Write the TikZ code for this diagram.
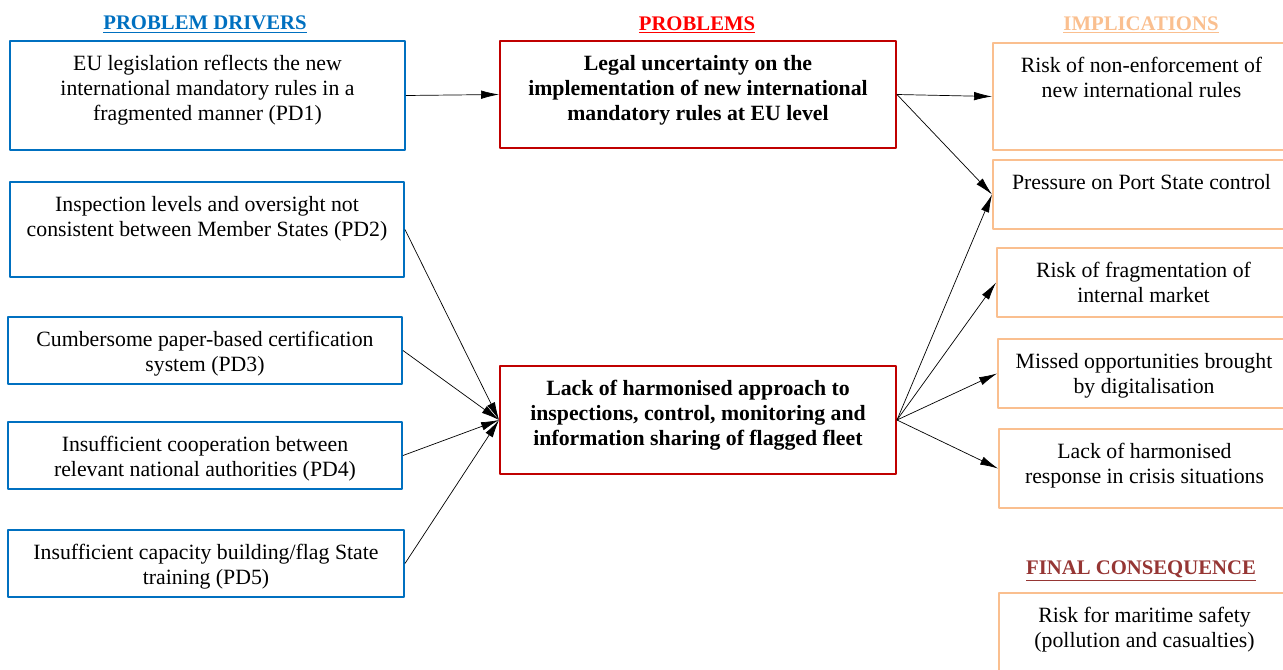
\documentclass[tikz,border=0pt]{standalone}
\usepackage{fontspec}
\setmainfont{Liberation Serif}
\usetikzlibrary{fit,arrows.meta}
\definecolor{drvblue}{RGB}{0,112,192}
\definecolor{prbred}{RGB}{192,0,0}
\definecolor{hdred}{RGB}{255,0,0}
\definecolor{impor}{RGB}{250,191,143}
\definecolor{fcred}{RGB}{150,54,52}
\tikzset{
	frame/.style={draw=#1, line width=1.1pt, inner sep=0pt},
	boxtext/.style={anchor=north, inner sep=0pt, align=center, font=\fontsize{12.4}{14.2}\selectfont},
	head/.style={inner sep=0pt, text=#1, font=\fontsize{11.8}{14}\selectfont\bfseries},
}
\begin{document}
\begin{tikzpicture}[x=0.02cm, y=-0.02cm, line join=round, >={Latex[length=0.36cm, width=0.17cm]}]
		\useasboundingbox (0,0) rectangle (1283,669);
		\clip (0,0) rectangle (1283,669);
		% headings
		\node[head=drvblue] (hpd) at (205,25) {\underline{PROBLEM DRIVERS}};
		\node[head=hdred] (hpb) at (697,25) {\underline{PROBLEMS}};
		\node[head=impor] (him) at (1141,25) {\underline{IMPLICATIONS}};
		\node[head=fcred] (hfc) at (1141,571) {\underline{FINAL CONSEQUENCE}};
		% problem drivers
		\node[frame=drvblue, fit={(10,41) (405,150)}] (pd1) {};
		\node[frame=drvblue, fit={(10,182) (404,277)}] (pd2) {};
		\node[frame=drvblue, fit={(8,317) (402,384)}] (pd3) {};
		\node[frame=drvblue, fit={(8,422) (402,489)}] (pd4) {};
		\node[frame=drvblue, fit={(8,530) (404,597)}] (pd5) {};
		% problems
		\node[frame=prbred, fit={(500,41) (896,148)}] (pb1) {};
		\node[frame=prbred, fit={(500,366) (896,474)}] (pb2) {};
		% implications
		\node[frame=impor, fit={(993,43) (1290,150)}] (im1) {};
		\node[frame=impor, fit={(993,160) (1290,229)}] (im2) {};
		\node[frame=impor, fit={(997,248) (1290,317)}] (im3) {};
		\node[frame=impor, fit={(998,339) (1290,408)}] (im4) {};
		\node[frame=impor, fit={(999,429) (1290,508)}] (im5) {};
		\node[frame=impor, fit={(999,593) (1290,690)}] (fc) {};
		% texts
		\path (pd1.north) ++(0,15) node[boxtext] {EU legislation reflects the new\\international mandatory rules in a\\fragmented manner (PD1)};
		\path (pd2.north) ++(0,15) node[boxtext] {Inspection levels and oversight not\\consistent between Member States (PD2)};
		\path (pd3.north) ++(0,15) node[boxtext] {Cumbersome paper-based certification\\system (PD3)};
		\path (pd4.north) ++(0,15) node[boxtext] {Insufficient cooperation between\\relevant national authorities (PD4)};
		\path (pd5.north) ++(0,15) node[boxtext] {Insufficient capacity building/flag State\\training (PD5)};
		\path (pb1.north) ++(0,15) node[boxtext, font=\fontsize{12.4}{14.2}\selectfont\bfseries] {Legal uncertainty on the\\implementation of new international\\mandatory rules at EU level};
		\path (pb2.north) ++(0,15) node[boxtext, font=\fontsize{12.4}{14.2}\selectfont\bfseries] {Lack of harmonised approach to\\inspections, control, monitoring and\\information sharing of flagged fleet};
		\path (im1.north) ++(0,15) node[boxtext] {Risk of non-enforcement of\\new international rules};
		\path (im2.north) ++(0,15) node[boxtext] {Pressure on Port State control};
		\path (im3.north) ++(0,15) node[boxtext] {Risk of fragmentation of\\internal market};
		\path (im4.north) ++(0,15) node[boxtext] {Missed opportunities brought\\by digitalisation};
		\path (im5.north) ++(0,15) node[boxtext] {Lack of harmonised\\response in crisis situations};
		\path (fc.north) ++(0,15) node[boxtext] {Risk for maritime safety\\(pollution and casualties)};
		% connectors
		\draw[->] (pd1.east) -- (pb1.west);
		\foreach \d in {pd2,pd3,pd4,pd5}
		\draw[->] (\d.east) -- (pb2.west);
		\foreach \d in {im1,im2}
		\draw[->] (pb1.east) -- (\d.west);
		\foreach \d in {im2,im3,im4,im5}
		\draw[->] (pb2.east) -- (\d.west);
\end{tikzpicture}
\end{document}
